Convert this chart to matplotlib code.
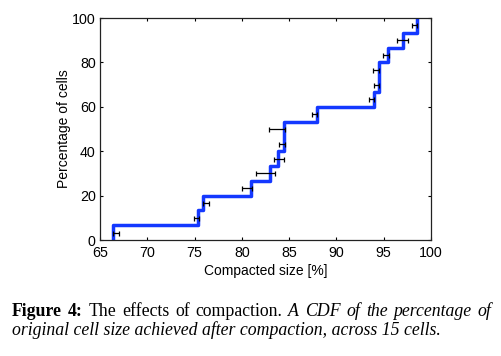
import numpy as np
import matplotlib
matplotlib.use('Agg')
import matplotlib.pyplot as plt

# sorted compacted sizes (%) of the 15 cells, one CDF step each
sizes = [66.4, 75.4, 75.9, 81.0, 83.0, 83.85, 84.45, 84.5, 87.9,
         94.0, 94.45, 94.5, 95.5, 97.0, 98.5]
# error bar extent for each cell
err_lo = [66.41, 74.94, 75.86, 79.98, 81.46, 83.43, 83.96, 82.90, 87.42,
          93.44, 93.94, 93.90, 94.96, 96.44, 97.96]
err_hi = [66.98, 75.50, 76.53, 81.04, 83.50, 84.49, 84.56, 84.53, 87.98,
          93.97, 94.53, 94.53, 95.56, 97.54, 98.55]
xticks = [65, 70, 75, 80, 85, 90, 95, 100]
yticks = [0, 20, 40, 60, 80, 100]

n = len(sizes)
cdf = np.arange(n + 1) * 100.0 / n
mid = (np.arange(n) + 0.5) * 100.0 / n
sizes = np.array(sizes)
lo = np.array(err_lo)
hi = np.array(err_hi)

plt.rcParams['font.family'] = ['Liberation Sans', 'DejaVu Sans']

fig = plt.figure(figsize=(5.01, 3.56), dpi=100)
ax = fig.add_axes([100/501, 116/356, 331/501, 222/356])

ax.step(np.r_[sizes[0], sizes], cdf, where='post', color='#1438ff', lw=2.5, zorder=2)
ax.errorbar((lo + hi) / 2, mid, xerr=(hi - lo) / 2,
            fmt='none', ecolor='black', elinewidth=0.9, capsize=1.8, capthick=0.9, zorder=3)

ax.set_xlim(65, 100)
ax.set_ylim(0, 100)
ax.set_xticks(xticks)
ax.set_yticks(yticks)
ax.tick_params(direction='in', length=2.5, width=0.8, top=True, right=True,
               labelsize=10.3, colors='black')
ax.tick_params(axis='x', pad=4)
ax.tick_params(axis='y', pad=3)
for s in ax.spines.values():
    s.set_linewidth(0.9)
    s.set_color('#222222')
ax.set_xlabel('Compacted size [%]', fontsize=10, labelpad=3)
ax.set_ylabel('Percentage of cells', fontsize=10, labelpad=0.5)

# caption: first line justified between x=12 and x=491 px
serif = ['Liberation Serif', 'DejaVu Serif']
fs = 12.8
line1 = [('Figure', 'bold', 'normal'), ('4:', 'bold', 'normal'),
         ('The', 'normal', 'normal'), ('effects', 'normal', 'normal'),
         ('of', 'normal', 'normal'), ('compaction.', 'normal', 'normal'),
         ('A', 'normal', 'italic'), ('CDF', 'normal', 'italic'),
         ('of', 'normal', 'italic'), ('the', 'normal', 'italic'),
         ('percentage', 'normal', 'italic'), ('of', 'normal', 'italic')]
renderer = fig.canvas.get_renderer()
words = []
total = 0
for w, wt, st in line1:
    t = fig.text(0, 1 - 316/356, w, family=serif, weight=wt, style=st, fontsize=fs)
    wd = t.get_window_extent(renderer).width
    words.append((t, wd))
    total += wd
gap = (491 - 12 - total) / (len(words) - 1)
xpos = 12
for t, wd in words:
    t.set_x(xpos / 501)
    xpos += wd + gap
fig.text(12/501, 1 - 335/356, 'original cell size achieved after compaction, across 15 cells.',
         family=serif, style='italic', fontsize=fs)

fig.savefig('out.png', dpi=100)
